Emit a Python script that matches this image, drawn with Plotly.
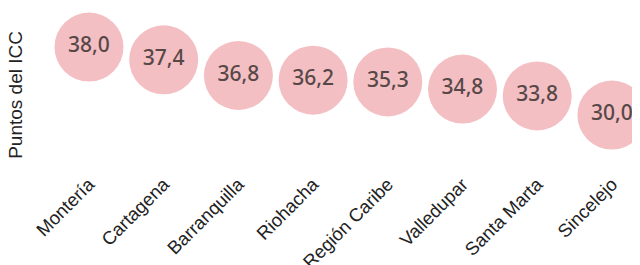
import plotly.graph_objects as go

cities = ["Montería", "Cartagena", "Barranquilla", "Riohacha", "Región Caribe",
          "Valledupar", "Santa Marta", "Sincelejo"]
icc = [38.0, 37.4, 36.8, 36.2, 35.3, 34.8, 33.8, 30.0]
# vertical placement of each bubble (arbitrary axis units)
y_pos = [38.0, 36.5, 34.65, 34.1, 33.9, 33.05, 32.25, 30.0]

labels = [f"{v:.1f}".replace(".", ",") for v in icc]

fig = go.Figure(go.Scatter(
    x=list(range(len(cities))),
    y=y_pos,
    mode="markers+text",
    marker=dict(size=69, color="#f4bfc3", line=dict(width=0)),
    text=labels,
    textposition="middle center",
    textfont=dict(family="Noto Sans", size=21, color="#574848", weight=500),
    cliponaxis=False,
    hoverinfo="skip",
))

fig.update_layout(
    width=632, height=257,
    margin=dict(l=52, r=0, t=12, b=96),
    paper_bgcolor="white", plot_bgcolor="white",
    showlegend=False,
    xaxis=dict(
        tickmode="array", tickvals=list(range(len(cities))), ticktext=cities,
        tickangle=-45, range=[-0.388, 7.376], automargin=False,
        showgrid=False, zeroline=False, showline=False, ticks="",
        tickfont=dict(family="Liberation Sans", size=18.5, color="#222"),
    ),
    yaxis=dict(
        range=[23.65, 41.18], showgrid=False, zeroline=False, showline=False,
        showticklabels=False, ticks="", automargin=False,
    ),
    annotations=[dict(
        text="Puntos del ICC", textangle=-90, showarrow=False,
        xref="paper", yref="paper", x=-0.077, y=0.5,
        xanchor="center", yanchor="middle",
        font=dict(family="Liberation Sans", size=19, color="#222"),
    )],
)

fig.write_html("out.html")
